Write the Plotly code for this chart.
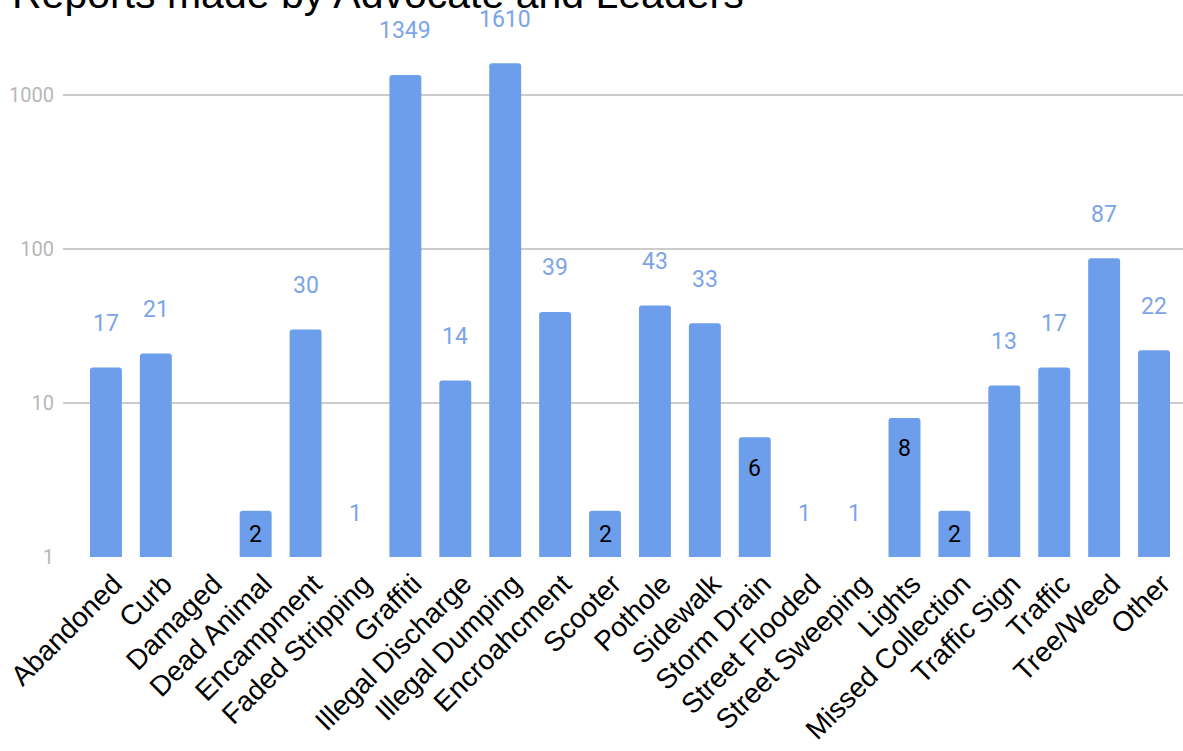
import math
import plotly.graph_objects as go

categories = ["Abandoned", "Curb", "Damaged", "Dead Animal", "Encampment", "Faded Stripping",
              "Graffiti", "Illegal Discharge", "Illegal Dumping", "Encroahcment", "Scooter",
              "Pothole", "Sidewalk", "Storm Drain", "Street Flooded", "Street Sweeping", "Lights",
              "Missed Collection", "Traffic Sign", "Traffic", "Tree/Weed", "Other"]
values = [17, 21, None, 2, 30, 1, 1349, 14, 1610, 39, 2, 43, 33, 6, 1, 1, 8, 2, 13, 17, 87, 22]
inside_labels = [False, False, False, True, False, False, False, False, False, False, True,
                 False, False, True, False, False, True, True, False, False, False, False]
y_ticks = [1, 10, 100, 1000]
title_text = "Reports made by Advocate and Leaders"

BAR = "#6d9eeb"
FONT = "Roboto"
SANS = "Liberation Sans, Arial"

fig = go.Figure()
fig.add_trace(go.Bar(x=categories, y=values, marker_color=BAR, marker_line_width=0,
                     hoverinfo="x+y"))

annotations = []
for cat, v, ins in zip(categories, values, inside_labels):
    if v is None:
        continue
    if ins:
        annotations.append(dict(x=cat, y=math.log10(v), text=str(v), showarrow=False,
                                xref="x", yref="y", yanchor="middle",
                                yshift=-24 if v <= 2 else -31,
                                font=dict(family=FONT, size=23, color="#000000")))
    else:
        annotations.append(dict(x=cat, y=math.log10(v), text=str(v), showarrow=False,
                                xref="x", yref="y", yanchor="middle", yshift=44,
                                font=dict(family=FONT, size=23, color="#7ba4ea")))

annotations.append(dict(text=title_text, xref="paper", yref="paper", x=0, y=1,
                        xanchor="left", yanchor="middle", xshift=-53, yshift=24,
                        showarrow=False, font=dict(family=SANS, size=41, color="#000000")))

fig.update_layout(
    width=1183, height=751,
    margin=dict(l=63, r=0, t=18, b=194),
    paper_bgcolor="white", plot_bgcolor="white",
    bargap=0.36, barcornerradius=3,
    showlegend=False,
    annotations=annotations,
    font=dict(family=FONT),
    xaxis=dict(range=[-0.86, 21.58], tickangle=-45, showgrid=False, showline=False,
               ticks="", ticklabelshift=8, ticklabelstandoff=4,
               tickfont=dict(family=SANS, size=28, color="#000000")),
    yaxis=dict(type="log", range=[0, 3.5], tickvals=y_ticks, ticktext=[str(t) for t in y_ticks],
               showgrid=True, gridcolor="#cccccc", gridwidth=2, zeroline=False, showline=False,
               ticks="", ticklabelstandoff=8,
               tickfont=dict(family=FONT, size=20, color="#b7b7b7")),
)

fig.write_html("out.html")
